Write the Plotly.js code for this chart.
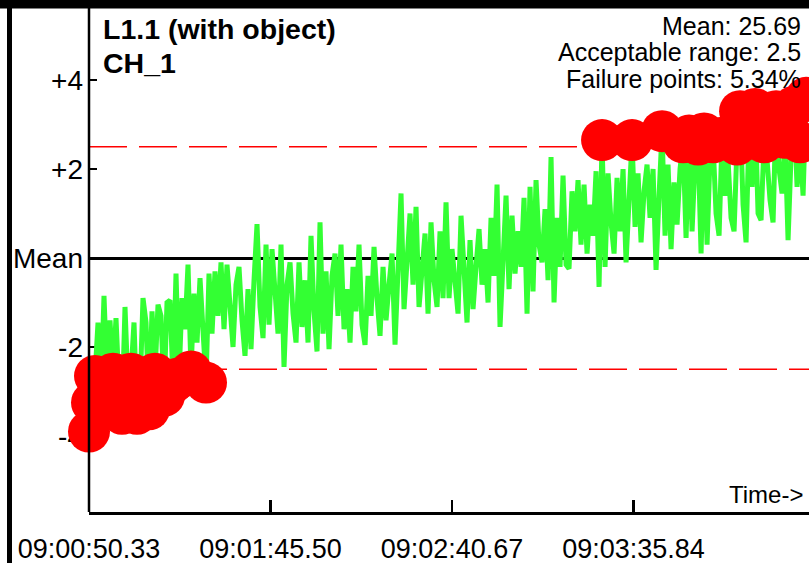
<!DOCTYPE html>
<html>
<head>
<meta charset="utf-8">
<script src="https://cdn.plot.ly/plotly-3.0.1.min.js"></script>
<style>html,body{margin:0;padding:0;background:#fff;}#chart{width:809px;height:563px;}</style>
</head>
<body>
<div id="chart"></div>
<script>
// ---- data ----
const titleLine1 = "L1.1 (with object)";
const titleLine2 = "CH_1";
const infoLines = ["Mean: 25.69", "Acceptable range: 2.5", "Failure points: 5.34%"];
const upperLimit = 2.5;
const lowerLimit = -2.5;
const sampleInterval = 0.912; // seconds between samples
const xRangeSeconds = [0, 218.86];
const yRange = [-5.708, 5.618];
const xTickVals = [0, 55.17, 110.34, 165.51];
const xTickText = ["09:00:50.33", "09:01:45.50", "09:02:40.67", "09:03:35.84"];
const yTickVals = [-4, -2, 0, 2, 4];
const yTickText = ["-4", "-2", "Mean", "+2", "+4"];
const deviation = [
  -3.9, -3.25, -2.65, -1.45, -3.0, -0.85, -2.7, -1.4, -2.6, -1.35,
  -2.9, -3.5, -1.1, -2.9, -2.6, -1.45, -3.5, -3.0, -0.9, -1.45,
  -3.4, -1.2, -2.6, -1.05, -1.3, -3.1, -1.0, -0.95, -2.8, -0.35,
  -2.7, -0.9, -1.6, -0.15, -2.55, -0.8, -1.9, -0.45, -1.6, -2.8,
  -0.35, -1.7, -0.3, -1.3, -0.1, -1.6, -0.15, -1.2, -2.0, -0.6,
  -0.2, -1.4, -2.2, -0.7, -2.05, -0.5, 0.76, -1.1, -1.8, 0.3,
  -1.5, 0.2, -0.9, -1.7, 0.3, -2.45, -0.6, -0.1, -1.25, -1.9,
  -0.1, -1.55, -0.5, -1.9, 0.5, -1.2, -2.1, 0.8, -1.7, -0.3,
  -2.05, -0.4, 0.1, -1.3, 0.3, -1.6, -0.7, -1.9, -0.2, -1.2,
  0.3, -1.5, -1.95, -0.4, -1.3, 0.25, -0.9, -1.75, -0.2, -1.4,
  -0.6, 0.1, -1.95, -0.3, 1.45, -1.15, 0.2, 1.0, -0.6, 1.15,
  -1.1, -0.2, 0.55, -1.25, 0.8, -0.5, -1.1, 0.6, -0.9, 1.25,
  -0.9, 0.2, -0.5, -1.25, 0.95, -0.3, -1.45, 0.4, -1.15, -0.2,
  0.65, -0.6, 0.2, -1.0, 0.9, -0.4, 1.65, -1.55, 0.3, 1.4,
  -0.7, 0.95, -0.35, 0.6, -0.2, 1.35, -1.25, 1.6, -0.75, 1.75,
  0.3, -0.1, 1.1, -0.5, 2.27, -1.0, 0.9, -0.2, 1.85, -0.15,
  -0.24, 1.5, 0.6, 1.75, 0.3, 1.65, 0.1, 1.2, 0.5, 1.95,
  -0.65, 2.65, -0.2, 1.9, 0.8, 0.1, 1.8, 0.6, 2.0, -0.1,
  1.3, 2.65, 0.7, 1.9, 0.35, 1.5, 2.1, 0.9, 2.0, -0.27,
  1.4, 2.85, 0.5, 2.1, 0.2, 1.7, 0.75, 2.0, 2.6, 0.45,
  2.75, 0.6, 2.2, 2.55, 0.1, 2.8, 0.3, 2.3, 2.6, 1.0,
  0.5, 2.7, 1.4, 2.2, 0.9, 0.6, 2.55, 3.3, 1.2, 0.35,
  2.9, 1.6, 3.35, 1.0, 0.85, 2.6, 2.2, 1.3, 0.8, 3.3,
  2.0, 1.45, 2.7, 0.4, 2.3, 3.4, 1.6, 2.6, 1.4, 3.6
];

const times = deviation.map((_, i) => i * sampleInterval);
const failX = [], failY = [];
deviation.forEach((v, i) => { if (v > upperLimit || v < lowerLimit) { failX.push(times[i]); failY.push(v); } });

// ---- plot ----
const W = 809, H = 563;
const M = {l: 89, r: 0, t: 8, b: 51};
const pw = W - M.l - M.r, ph = H - M.t - M.b;
const px = x => (x - M.l) / pw;
const py = y => (H - M.b - y) / ph;
const font = "Liberation Sans, Arial, sans-serif";

const traces = [
  {x: times, y: deviation, type: 'scatter', mode: 'lines',
   line: {color: '#33ff33', width: 5}, hoverinfo: 'skip'},
  {x: failX, y: failY, type: 'scatter', mode: 'markers', cliponaxis: false,
   marker: {color: '#ff0000', size: 42, line: {width: 0}}, hoverinfo: 'skip'}
];

const layout = {
  width: W, height: H, margin: M, showlegend: false,
  paper_bgcolor: '#ffffff', plot_bgcolor: '#ffffff',
  font: {family: font, color: '#000'},
  xaxis: {range: xRangeSeconds, tickvals: xTickVals, ticktext: xTickText,
    showgrid: false, zeroline: false, showline: true, linecolor: '#000', linewidth: 3,
    ticks: 'inside', ticklen: 12, tickwidth: 2.5, tickcolor: '#000',
    tickfont: {family: font, size: 27, color: '#000'}, ticklabelstandoff: 11, fixedrange: true},
  yaxis: {range: yRange, tickvals: yTickVals, ticktext: yTickText,
    showgrid: false, zeroline: true, zerolinecolor: '#000', zerolinewidth: 3,
    showline: false, ticks: 'inside', ticklen: 8, tickwidth: 2, tickcolor: '#000',
    tickfont: {family: font, size: 28, color: '#000'}, ticklabelstandoff: 5,
    layer: 'below traces', fixedrange: true},
  shapes: [
    {type: 'line', xref: 'paper', yref: 'y', x0: 0, x1: 1, y0: upperLimit, y1: upperLimit,
     line: {color: '#ff0000', width: 1.5, dash: '38px,12px'}, layer: 'below'},
    {type: 'line', xref: 'paper', yref: 'y', x0: 0, x1: 1, y0: lowerLimit, y1: lowerLimit,
     line: {color: '#ff0000', width: 1.5, dash: '38px,12px'}, layer: 'below'},
    {type: 'line', xref: 'paper', yref: 'paper', x0: 0, x1: 0, y0: 0, y1: 1,
     line: {color: '#000', width: 2.5}, layer: 'above'},
    {type: 'rect', xref: 'paper', yref: 'paper', x0: px(0), x1: px(W + 5), y0: py(8.5), y1: py(-2),
     fillcolor: '#000', line: {width: 0}, layer: 'above'},
    {type: 'rect', xref: 'paper', yref: 'paper', x0: px(7), x1: px(12), y0: py(H + 2), y1: py(-2),
     fillcolor: '#000', line: {width: 0}, layer: 'above'}
  ],
  annotations: [
    {xref: 'paper', yref: 'paper', x: px(101), y: py(29), xanchor: 'left', yanchor: 'middle',
     text: '<b>' + titleLine1 + '</b>', showarrow: false, font: {family: font, size: 28.5, color: '#000'}},
    {xref: 'paper', yref: 'paper', x: px(101), y: py(63), xanchor: 'left', yanchor: 'middle',
     text: '<b>' + titleLine2 + '</b>', showarrow: false, font: {family: font, size: 28.5, color: '#000'}},
    {xref: 'paper', yref: 'paper', x: px(803), y: py(26), xanchor: 'right', yanchor: 'middle',
     text: infoLines[0], showarrow: false, font: {family: font, size: 25, color: '#000'}},
    {xref: 'paper', yref: 'paper', x: px(803), y: py(52), xanchor: 'right', yanchor: 'middle',
     text: infoLines[1], showarrow: false, font: {family: font, size: 25, color: '#000'}},
    {xref: 'paper', yref: 'paper', x: px(803), y: py(79), xanchor: 'right', yanchor: 'middle',
     text: infoLines[2], showarrow: false, font: {family: font, size: 25, color: '#000'}},
    {xref: 'paper', yref: 'paper', x: px(805), y: py(494), xanchor: 'right', yanchor: 'middle',
     text: 'Time->', showarrow: false, font: {family: font, size: 24, color: '#000'}}
  ]
};

Plotly.newPlot('chart', traces, layout, {staticPlot: true, displayModeBar: false});
</script>
</body>
</html>
